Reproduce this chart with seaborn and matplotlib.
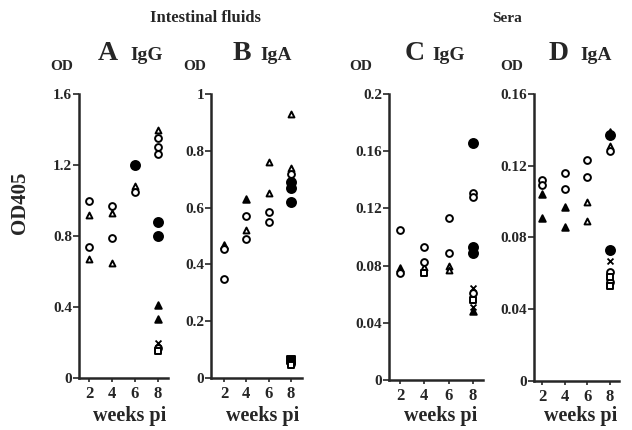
import matplotlib
matplotlib.use("Agg")
import matplotlib.pyplot as plt
import seaborn as sns
import pandas as pd

# Dados (semanas pós-infecção, OD405, tipo de símbolo)
a_weeks = [2, 2, 2, 2, 4, 4, 4, 4, 6, 6, 6,
           8, 8, 8, 8, 8, 8, 8, 8, 8, 8, 8]
a_values = [1.00, 0.92, 0.74, 0.67, 0.97, 0.93, 0.79, 0.65, 1.20, 1.08, 1.05,
            1.40, 1.35, 1.30, 1.26, 0.88, 0.80, 0.41, 0.33, 0.20, 0.17, 0.15]
a_marks = ["o", "^", "o", "^", "o", "^", "o", "^", "fo", "^", "o",
           "^", "o", "o", "o", "fo", "fo", "f^", "f^", "x", "o", "s"]

b_weeks = [2, 2, 2, 4, 4, 4, 4, 6, 6, 6, 6,
           8, 8, 8, 8, 8, 8, 8, 8, 8]
b_values = [0.47, 0.455, 0.35, 0.63, 0.57, 0.52, 0.49, 0.76, 0.65, 0.585, 0.55,
            0.93, 0.74, 0.72, 0.69, 0.67, 0.62, 0.065, 0.05, 0.045]
b_marks = ["f^", "o", "o", "f^", "o", "^", "o", "^", "^", "o", "o",
           "^", "^", "o", "fo", "fo", "fo", "fs", "o", "s"]

c_weeks = [2, 2, 2, 4, 4, 4, 4, 6, 6, 6, 6,
           8, 8, 8, 8, 8, 8, 8, 8, 8, 8]
c_values = [0.105, 0.078, 0.075, 0.093, 0.0825, 0.079, 0.075, 0.113, 0.089, 0.080, 0.077,
            0.166, 0.131, 0.128, 0.093, 0.089, 0.064, 0.061, 0.056, 0.051, 0.048]
c_marks = ["o", "f^", "o", "o", "o", "^", "s", "o", "o", "^", "^",
           "fo", "o", "o", "fo", "fo", "x", "o", "s", "x", "f^"]

d_weeks = [2, 2, 2, 2, 4, 4, 4, 4, 6, 6, 6, 6,
           8, 8, 8, 8, 8, 8, 8, 8, 8, 8]
d_values = [0.112, 0.109, 0.104, 0.091, 0.116, 0.107, 0.097, 0.086, 0.123, 0.114, 0.100, 0.089,
            0.139, 0.137, 0.131, 0.128, 0.073, 0.067, 0.061, 0.058, 0.055, 0.053]
d_marks = ["o", "o", "f^", "f^", "o", "o", "f^", "f^", "o", "o", "^", "^",
           "f^", "fo", "^", "o", "fo", "x", "o", "s", "o", "s"]

panels = [
    ("A", "IgG", a_weeks, a_values, a_marks, [0, 0.4, 0.8, 1.2, 1.6], ["0", "0.4", "0.8", "1.2", "1.6"]),
    ("B", "IgA", b_weeks, b_values, b_marks, [0, 0.2, 0.4, 0.6, 0.8, 1], ["0", "0.2", "0.4", "0.6", "0.8", "1"]),
    ("C", "IgG", c_weeks, c_values, c_marks, [0, 0.04, 0.08, 0.12, 0.16, 0.2], ["0", "0.04", "0.08", "0.12", "0.16", "0.2"]),
    ("D", "IgA", d_weeks, d_values, d_marks, [0, 0.04, 0.08, 0.12, 0.16], ["0", "0.04", "0.08", "0.12", "0.16"]),
]
week_ticks = [2, 4, 6, 8]

# estilo de cada símbolo: (marcador, preenchido, tamanho)
estilos = {
    "o": ("o", False, 24),
    "^": ("^", False, 18),
    "fo": ("o", True, 42),
    "f^": ("^", True, 22),
    "x": ("x", None, 18),
    "s": ("s", False, 24),
    "fs": ("s", True, 32),
}

sns.set_style("ticks")
plt.rcParams["font.family"] = ["Liberation Serif", "DejaVu Serif"]
plt.rcParams["font.weight"] = "bold"

W, H = 632, 430
fig = plt.figure(figsize=(W / 100, H / 100), dpi=100)

# posição dos eixos em pixels: x0, x1, topo, base, xlim
caixas = [
    (79, 168, 94, 378, (1.13, 8.87)),
    (211, 302, 94, 378, (0.84, 8.98)),
    (389, 483, 94, 380, (1.10, 8.82)),
    (534, 619, 94, 381, (1.29, 8.79)),
]
textos = [  # x de "OD", letra, isotipo, "weeks pi"
    (62, 108, 147, 130),
    (195, 242, 276, 263),
    (361, 415, 449, 441),
    (512, 559, 596, 581),
]


def ftxt(x, y, s, **kw):
    fig.text(x / W, 1 - y / H, s, ha="center", va="center", **kw)


for (letra, iso, wk, vals, mk, yt, ytl), (x0, x1, yt0, yb0, xl), (tx_od, tx_l, tx_iso, tx_w) in zip(panels, caixas, textos):
    ax = fig.add_axes([x0 / W, 1 - yb0 / H, (x1 - x0) / W, (yb0 - yt0) / H])
    df = pd.DataFrame({"week": wk, "od": vals, "mark": mk})
    for chave, sub in df.groupby("mark"):
        m, cheio, tam = estilos[chave]
        if cheio is None:
            sns.scatterplot(data=sub, x="week", y="od", marker=m, s=tam, color="black",
                            linewidth=1.3, ax=ax, clip_on=False)
        else:
            sns.scatterplot(data=sub, x="week", y="od", marker=m, s=tam,
                            facecolor="black" if cheio else "white", edgecolor="black",
                            linewidth=1.4, ax=ax, clip_on=False, zorder=3)
    ax.set_xlim(*xl)
    ax.set_ylim(yt[0], yt[-1])
    ax.set_xticks(week_ticks)
    ax.set_xticklabels([str(w) for w in week_ticks], fontsize=12, fontweight="bold")
    ax.set_yticks(yt)
    ax.set_yticklabels(ytl, fontsize=11, fontweight="bold")
    ax.tick_params(axis="y", length=4, width=1.2, pad=1)
    ax.tick_params(axis="x", length=3, width=1.2, pad=3)
    ax.set_xlabel("")
    ax.set_ylabel("")
    sns.despine(ax=ax)
    for sp in ["left", "bottom"]:
        ax.spines[sp].set_linewidth(1.8)

    ftxt(tx_od, 66, "OD", fontsize=11, fontweight="bold")
    ftxt(tx_l, 53, letra, fontsize=20, fontweight="bold")
    ftxt(tx_iso, 56, iso, fontsize=14, fontweight="bold")
    ftxt(tx_w, 416, "weeks pi", fontsize=14.5, fontweight="bold")

ftxt(205, 18, "Intestinal fluids", fontsize=12, fontweight="bold")
ftxt(507, 18, "Sera", fontsize=11, fontweight="bold")
ftxt(20, 203, "OD405", fontsize=15, fontweight="bold", rotation=90)

fig.savefig("out.png", dpi=100, facecolor="white")
